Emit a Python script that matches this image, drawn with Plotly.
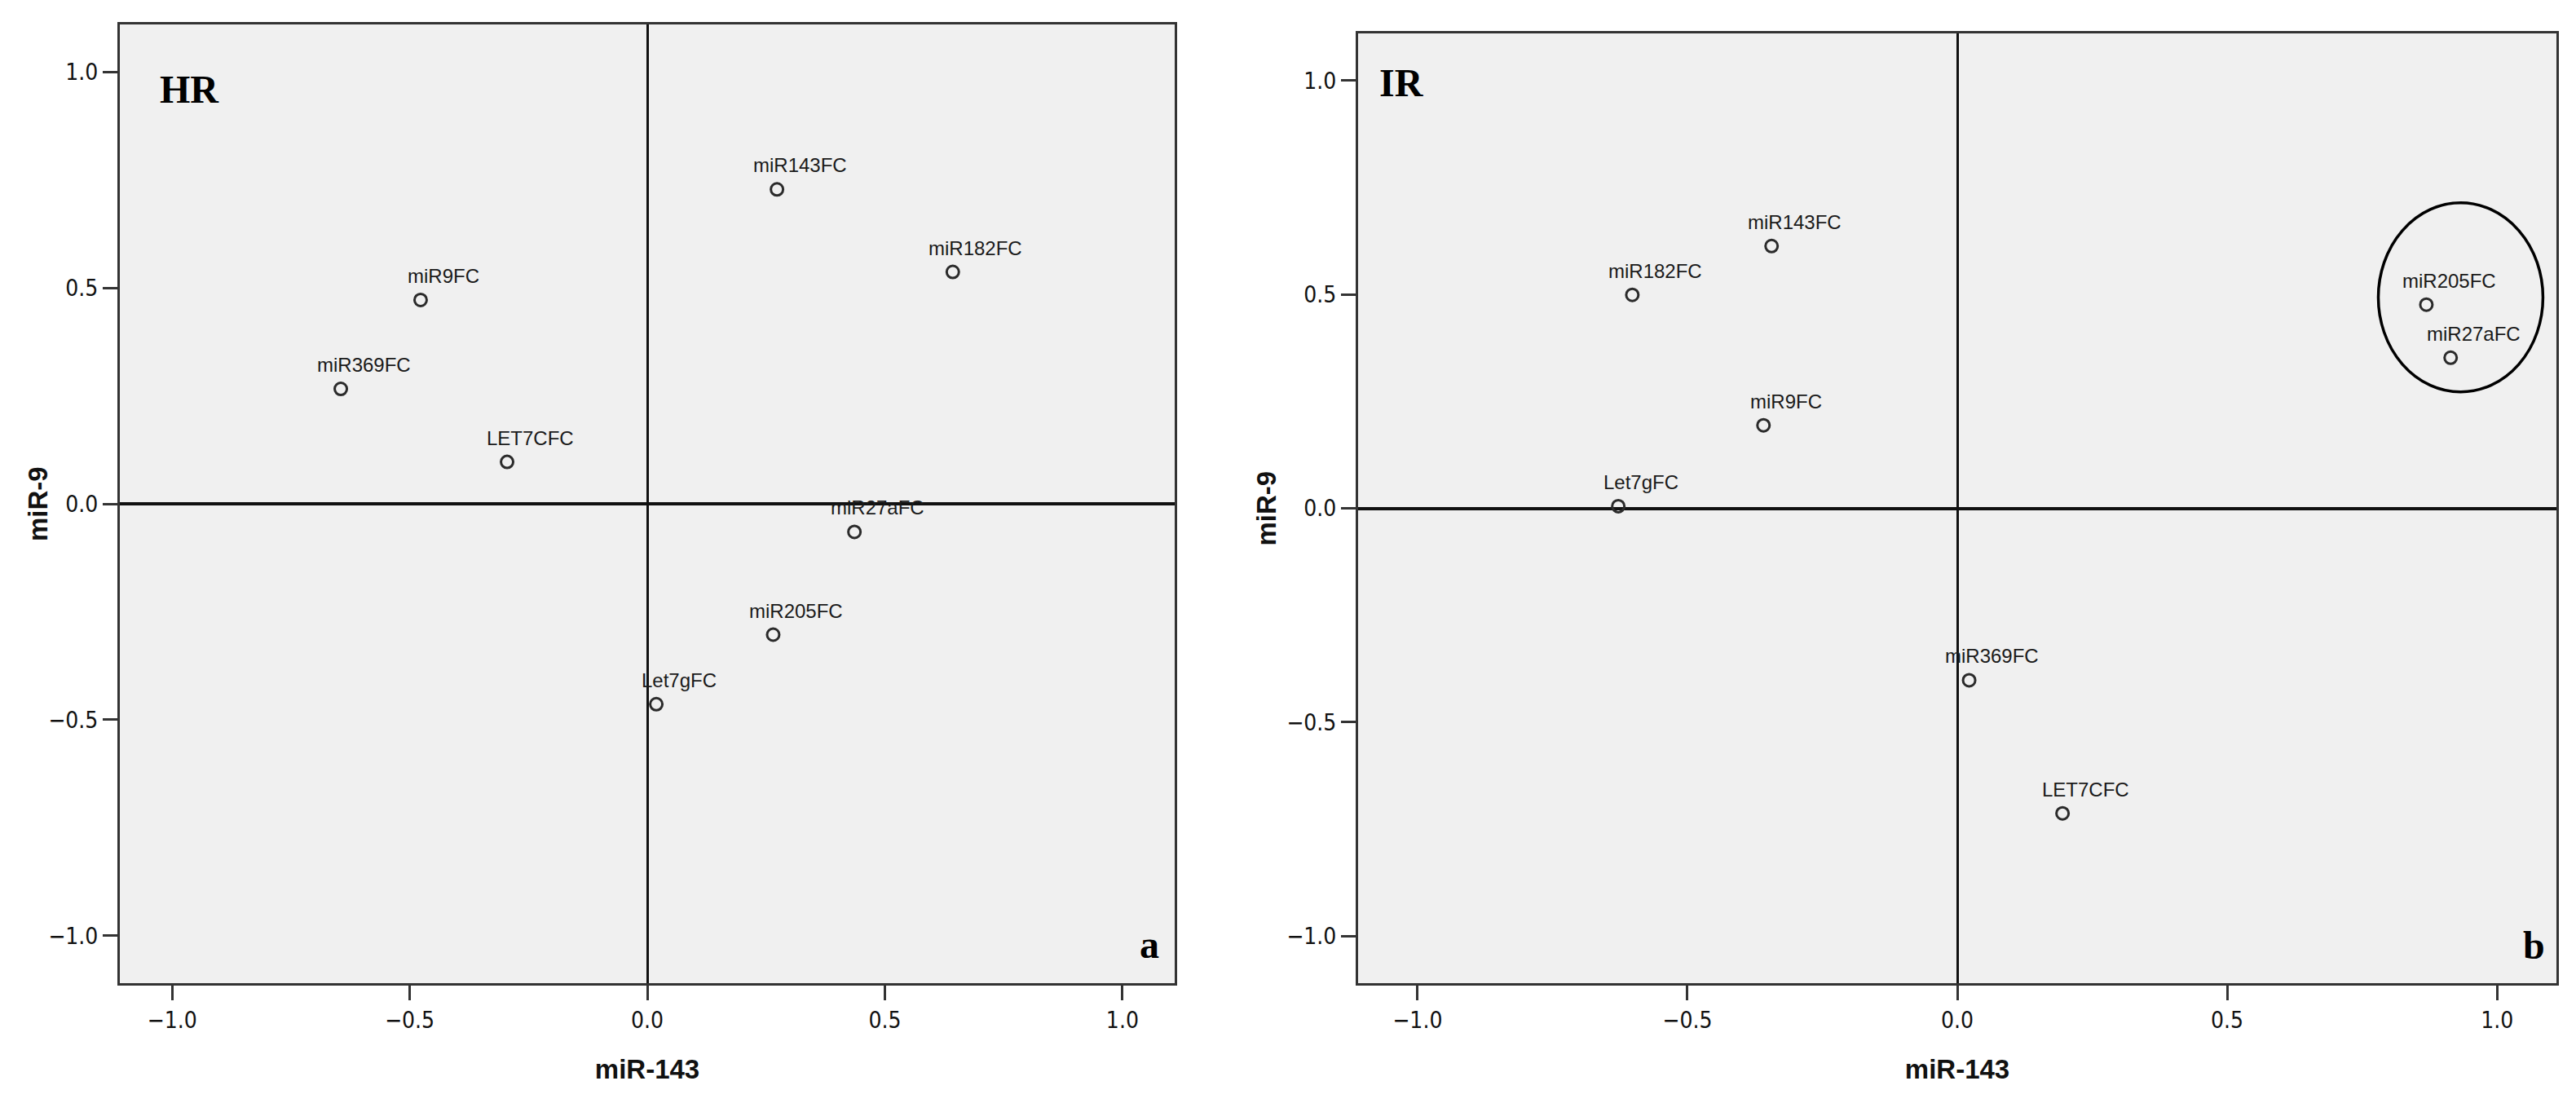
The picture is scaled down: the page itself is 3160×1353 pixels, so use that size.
import plotly.graph_objects as go

# HR panel (a)
HR_LABELS = ["miR143FC", "miR182FC", "miR9FC", "miR369FC", "LET7CFC", "miR27aFC", "miR205FC", "Let7gFC"]
HR_MIR143 = [0.273, 0.643, -0.477, -0.645, -0.295, 0.436, 0.265, 0.019]
HR_MIR9 = [0.728, 0.537, 0.472, 0.266, 0.097, -0.065, -0.303, -0.464]

# IR panel (b)
IR_LABELS = ["miR143FC", "miR182FC", "miR9FC", "Let7gFC", "miR205FC", "miR27aFC", "miR369FC", "LET7CFC"]
IR_MIR143 = [-0.344, -0.602, -0.359, -0.628, 0.869, 0.914, 0.022, 0.195]
IR_MIR9 = [0.613, 0.499, 0.194, 0.005, 0.476, 0.352, -0.402, -0.713]

TICKS = [-1.0, -0.5, 0.0, 0.5, 1.0]
AXIS_RANGE = [-1.11, 1.11]

# ellipse drawn round the miR205FC / miR27aFC pair in panel b
HIGHLIGHT_X = [0.78, 1.085]
HIGHLIGHT_Y = [0.272, 0.714]

W, H = 3160, 1353
TICK_FONT = dict(family="Liberation Sans Narrow, DejaVu Sans Condensed, Arial Narrow, sans-serif", size=28, color="#111111")
LABEL_FONT = dict(family="Liberation Sans, Arial, sans-serif", size=24, color="#1a1a1a")
TITLE_FONT = dict(family="Liberation Sans, Arial, sans-serif", size=33, color="#111111")
PANEL_FONT = dict(family="Liberation Serif, Times New Roman, serif", size=48, color="#000000")


def _axis(domain, anchor, zero_width):
    return dict(
        domain=domain,
        anchor=anchor,
        range=AXIS_RANGE,
        tickvals=TICKS,
        tickformat=".1f",
        ticks="outside",
        ticklen=18,
        tickwidth=3,
        tickcolor="#333333",
        tickfont=TICK_FONT,
        showgrid=False,
        showline=True,
        linecolor="#333333",
        linewidth=3,
        mirror=True,
        zeroline=True,
        zerolinecolor="#111111",
        zerolinewidth=zero_width,
        automargin=False,
        fixedrange=True,
    )


fig = go.Figure()

panels = [
    (HR_MIR143, HR_MIR9, HR_LABELS, "x", "y"),
    (IR_MIR143, IR_MIR9, IR_LABELS, "x2", "y2"),
]
for xs, ys, labels, xa, ya in panels:
    fig.add_trace(go.Scatter(
        x=xs, y=ys, mode="markers", xaxis=xa, yaxis=ya,
        marker=dict(symbol="circle-open", size=15, color="#2b2b2b", line=dict(width=3)),
        showlegend=False, hoverinfo="text", hovertext=labels,
    ))
    for lx, ly, txt in zip(xs, ys, labels):
        fig.add_annotation(
            x=lx, y=ly, xref=xa, yref=ya, text=txt, showarrow=False,
            xanchor="center", yanchor="bottom", xshift=28, yshift=14,
            font=LABEL_FONT,
        )

fig.add_shape(
    type="circle", xref="x2", yref="y2",
    x0=HIGHLIGHT_X[0], x1=HIGHLIGHT_X[1], y0=HIGHLIGHT_Y[0], y1=HIGHLIGHT_Y[1],
    line=dict(color="#000000", width=3.5),
)

# panel tags
for txt, xr, yr, px, py, anchor in [
    ("HR", "x domain", "y domain", 0.036, 0.932, "left"),
    ("a", "x domain", "y domain", 0.976, 0.04, "center"),
    ("IR", "x2 domain", "y2 domain", 0.016, 0.948, "left"),
    ("b", "x2 domain", "y2 domain", 0.981, 0.04, "center"),
]:
    fig.add_annotation(
        x=px, y=py, xref=xr, yref=yr, text="<b>" + txt + "</b>", showarrow=False,
        xanchor=anchor, yanchor="middle", font=PANEL_FONT,
    )

# y-axis titles, placed beside the tick labels
for xpix, yr in [(46, "y domain"), (1553, "y2 domain")]:
    fig.add_annotation(
        x=xpix / W, y=0.5, xref="paper", yref=yr, text="<b>miR-9</b>", showarrow=False,
        textangle=-90, xanchor="center", yanchor="middle", font=TITLE_FONT,
    )

fig.update_layout(
    width=W, height=H,
    margin=dict(l=0, r=0, t=0, b=0),
    paper_bgcolor="#ffffff",
    plot_bgcolor="#f0f0f0",
    xaxis=_axis([147 / W, 1441 / W], "y", 2.5),
    yaxis=_axis([1 - 1206 / H, 1 - 30 / H], "x", 4),
    xaxis2=_axis([1666 / W, 3136 / W], "y2", 2.5),
    yaxis2=_axis([1 - 1206 / H, 1 - 41 / H], "x2", 4),
)
for ax in ("xaxis", "xaxis2"):
    fig.layout[ax].title = dict(text="<b>miR-143</b>", font=TITLE_FONT, standoff=34)

fig.write_html(
    "out.html",
    config={"displayModeBar": False},
    post_script="document.body.style.margin = '0';",
)
